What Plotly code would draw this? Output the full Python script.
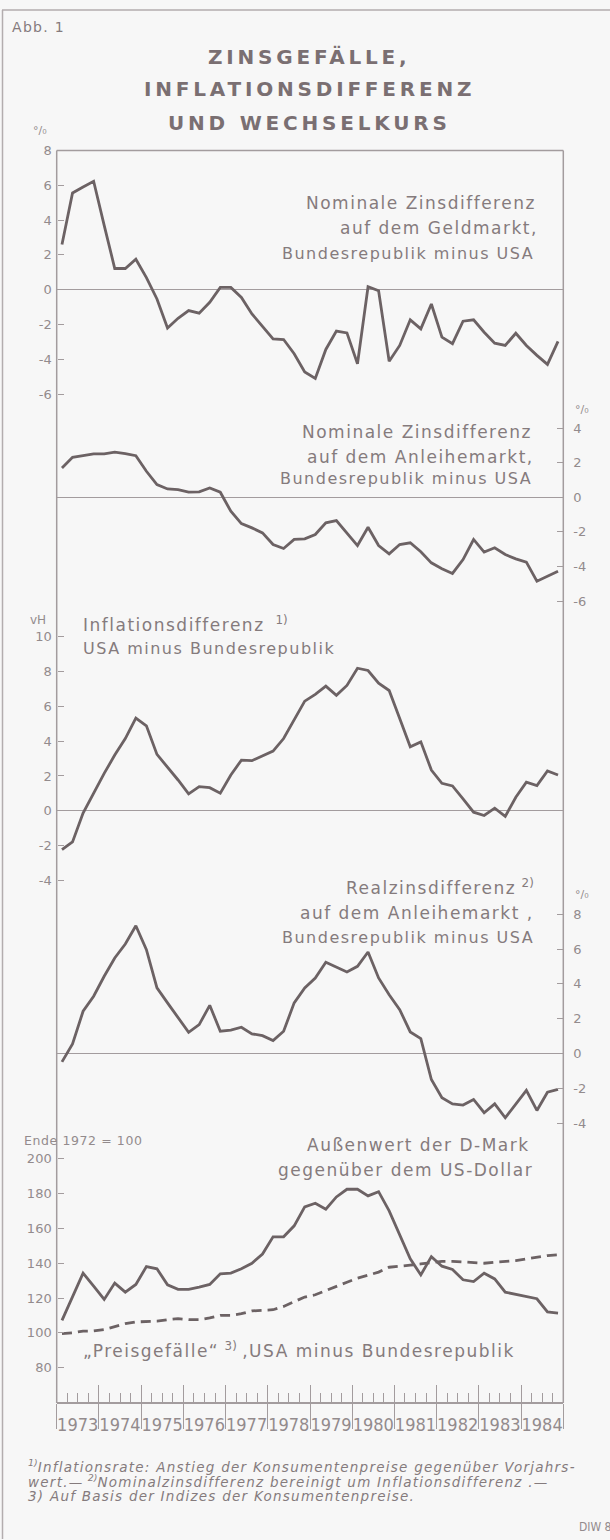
import plotly.graph_objects as go

W, H = 610, 1540

# quarterly observations 1973 Q1 - 1984 Q4
years = list(range(1973, 1985))
quarters = [y + (q - 0.5) / 4 for y in years for q in range(1, 5)]
year_labels = [str(y) for y in years]

# Nominale Zinsdifferenz auf dem Geldmarkt (%)
zins_geldmarkt = [2.6, 5.56, 5.9, 6.23, 3.7, 1.22, 1.22, 1.75, 0.7, -0.53, -2.2, -1.64,
                  -1.2, -1.35, -0.72, 0.13, 0.13, -0.44, -1.39, -2.11, -2.82, -2.86, -3.68, -4.72,
                  -5.1, -3.43, -2.38, -2.48, -4.25, 0.17, -0.06, -4.11, -3.2, -1.73, -2.25, -0.82,
                  -2.72, -3.1, -1.81, -1.73, -2.44, -3.07, -3.2, -2.5, -3.2, -3.77, -4.29, -2.97]

# Nominale Zinsdifferenz auf dem Anleihemarkt (%)
zins_anleihe = [1.69, 2.31, 2.4, 2.5, 2.5, 2.6, 2.52, 2.4, 1.5, 0.73, 0.48, 0.44,
                0.29, 0.31, 0.54, 0.29, -0.81, -1.52, -1.77, -2.06, -2.73, -2.96, -2.44, -2.4,
                -2.15, -1.48, -1.35, -2.06, -2.79, -1.73, -2.79, -3.27, -2.73, -2.63, -3.15, -3.79,
                -4.13, -4.4, -3.6, -2.44, -3.17, -2.92, -3.31, -3.56, -3.75, -4.85, -4.56, -4.27]

# Inflationsdifferenz USA minus Bundesrepublik (vH)
inflation_diff = [-2.23, -1.79, -0.13, 1.01, 2.15, 3.2, 4.15, 5.33, 4.88, 3.24, 2.53, 1.77,
                  0.97, 1.39, 1.33, 1.01, 2.06, 2.91, 2.88, 3.14, 3.43, 4.15, 5.2, 6.3,
                  6.69, 7.16, 6.63, 7.2, 8.19, 8.06, 7.33, 6.91, 5.3, 3.68, 3.96, 2.34,
                  1.58, 1.43, 0.69, -0.08, -0.27, 0.15, -0.32, 0.78, 1.64, 1.45, 2.29, 2.06]

# Realzinsdifferenz auf dem Anleihemarkt (%)
realzins_diff = [-0.48, 0.55, 2.43, 3.29, 4.44, 5.49, 6.29, 7.34, 5.97, 3.77, 2.91, 2.05,
                 1.22, 1.66, 2.77, 1.28, 1.34, 1.51, 1.13, 1.03, 0.75, 1.28, 2.91, 3.77,
                 4.34, 5.24, 4.95, 4.68, 5.01, 5.83, 4.34, 3.38, 2.52, 1.24, 0.86, -1.49,
                 -2.54, -2.89, -2.96, -2.64, -3.4, -2.89, -3.69, -2.93, -2.12, -3.27, -2.22, -2.06]

# Außenwert der D-Mark gegenüber dem US-Dollar (Ende 1972 = 100)
dm_aussenwert = [107.2, 120.6, 134.3, 126.9, 119.2, 128.6, 123.4, 127.8, 138.1, 136.8, 127.6, 125.0,
                 125.0, 126.3, 127.8, 133.9, 134.3, 136.8, 140.0, 145.3, 155.2, 155.2, 161.5, 172.4,
                 174.5, 171.0, 178.1, 182.5, 182.5, 178.7, 181.1, 170.1, 155.8, 142.5, 133.3, 143.8,
                 138.3, 136.4, 130.5, 129.5, 134.3, 131.0, 123.4, 122.1, 120.6, 119.6, 112.0, 111.4]

# "Preisgefälle" USA minus Bundesrepublik (Ende 1972 = 100)
preisgefaelle = [99.6, 100.0, 101.0, 101.1, 101.9, 103.4, 105.3, 106.3, 106.7, 106.7, 107.6, 108.2,
                 107.6, 107.6, 108.6, 110.1, 110.1, 111.0, 112.6, 113.0, 113.3, 115.2, 118.1, 120.6,
                 121.9, 124.4, 126.9, 129.1, 131.4, 133.3, 134.9, 137.7, 138.1, 138.9, 139.6, 140.4,
                 141.1, 141.1, 140.8, 140.2, 140.0, 140.6, 141.1, 141.5, 142.5, 143.4, 144.4, 144.8]

ticks_geld = [-6, -4, -2, 0, 2, 4, 6, 8]
ticks_anleihe = [-6, -4, -2, 0, 2, 4]
ticks_infl = [-4, -2, 0, 2, 4, 6, 8, 10]
ticks_real = [-4, -2, 0, 2, 4, 6, 8]
ticks_dm = [80, 100, 120, 140, 160, 180, 200]

# colours
BG = '#f7f7f7'
LINE = '#6c6264'
TEXT = '#857b7d'
TICKTXT = '#938b8d'
FRAME = '#a39c9e'
TITLE = '#7a6f72'
FONT = 'DejaVu Sans'
NARROW = 'Liberation Sans Narrow, DejaVu Sans Condensed, sans-serif'

# plot frame in pixels
X_LEFT, X_RIGHT = 56.7, 563.3
Y_TOP, Y_AXIS = 144.2, 1403.3


def fx(x):
    return x / W


def fy(y):
    return 1 - y / H


def domain(ref_val, ref_px, k, lo, hi):
    return [fy(ref_px + k * (ref_val - lo)), fy(ref_px - k * (hi - ref_val))]


def spaced(s, sp):
    return f'<span style="letter-spacing:{sp}px">{s}</span>'


def yaxis(dom, rng, vals, side, zero=True):
    left = side == 'left'
    return dict(
        domain=dom, range=rng, anchor='free',
        position=fx(X_LEFT) if left else fx(X_RIGHT), side=side,
        tickmode='array', tickvals=vals, ticktext=[str(v) for v in vals],
        ticks='inside', ticklen=6, tickwidth=1.3, tickcolor=FRAME,
        ticklabelstandoff=5 if left else 9,
        tickfont=dict(family=FONT, size=13, color=TICKTXT),
        showline=False, showgrid=False,
        zeroline=zero, zerolinecolor=FRAME, zerolinewidth=1.3,
        fixedrange=True,
    )


fig = go.Figure()

series = [
    (zins_geldmarkt, 'x', 'y', 'solid'),
    (zins_anleihe, 'x', 'y2', 'solid'),
    (inflation_diff, 'x', 'y3', 'solid'),
    (realzins_diff, 'x', 'y4', 'solid'),
    (dm_aussenwert, 'x', 'y5', 'solid'),
    (preisgefaelle, 'x2', 'y5', '10px,6px'),
]
for values, xref, yref, dash in series:
    fig.add_trace(go.Scatter(
        x=quarters, y=values, xaxis=xref, yaxis=yref, mode='lines',
        line=dict(color=LINE, width=2.8, dash=dash),
        showlegend=False, hoverinfo='skip',
    ))

fig.update_layout(
    width=W, height=H,
    margin=dict(l=0, r=0, t=0, b=0),
    paper_bgcolor=BG, plot_bgcolor='rgba(0,0,0,0)',
    showlegend=False,
    xaxis=dict(
        domain=[fx(X_LEFT), fx(X_RIGHT)], range=[1973, 1985],
        anchor='free', position=fy(Y_AXIS),
        showline=True, linecolor=FRAME, linewidth=1.5,
        tickmode='array', tickvals=years, ticktext=year_labels, tickangle=0,
        ticks='inside', ticklen=17, tickwidth=1.3, tickcolor=FRAME,
        minor=dict(ticks='inside', ticklen=9, tickwidth=1.2, tickcolor=FRAME,
                   tick0=1973, dtick=0.25, showgrid=False),
        ticklabelshift=21, ticklabelstandoff=6,
        tickfont=dict(family=NARROW, size=18, color=TICKTXT),
        showgrid=False, zeroline=False, fixedrange=True,
    ),
    xaxis2=dict(
        matches='x', overlaying='x', anchor='free', position=fy(Y_AXIS),
        tickmode='array', tickvals=years + [1985], showticklabels=False,
        ticks='outside', ticklen=25, tickwidth=1.3, tickcolor=FRAME,
        showline=False, showgrid=False, zeroline=False, fixedrange=True,
    ),
    yaxis=yaxis(domain(0, 284.2, 17.5, -7, 8), [-7, 8], ticks_geld, 'left'),
    yaxis2=yaxis(domain(0, 492.8, 17.4, -6.6, 4.6), [-6.6, 4.6], ticks_anleihe, 'right'),
    yaxis3=yaxis(domain(0, 808.0, 17.5, -4.4, 10.4), [-4.4, 10.4], ticks_infl, 'left'),
    yaxis4=yaxis(domain(0, 1052.0, 17.5, -4.4, 8.4), [-4.4, 8.4], ticks_real, 'right'),
    yaxis5=yaxis(domain(100, 1332.8, 1.75, 76, 204), [76, 204], ticks_dm, 'left', zero=False),
)

# frame and outer border
frame = dict(color=FRAME, width=1.5)
fig.add_shape(type='line', xref='paper', yref='paper', x0=fx(X_LEFT), x1=fx(X_RIGHT),
              y0=fy(Y_TOP), y1=fy(Y_TOP), line=frame, layer='below')
for xp in (X_LEFT, X_RIGHT):
    fig.add_shape(type='line', xref='paper', yref='paper', x0=fx(xp), x1=fx(xp),
                  y0=fy(Y_TOP), y1=fy(Y_AXIS), line=frame, layer='below')
border = dict(color='#b3adae', width=1.5)
fig.add_shape(type='line', xref='paper', yref='paper', x0=fx(2), x1=1,
              y0=fy(3), y1=fy(3), line=border, layer='below')
fig.add_shape(type='line', xref='paper', yref='paper', x0=fx(2.5), x1=fx(2.5),
              y0=fy(3), y1=0, line=border, layer='below')


def label(text, x, y, anchor='left', size=16, color=TEXT, bold=False, italic=False, family=FONT):
    fig.add_annotation(
        text=text, x=fx(x), y=fy(y), xref='paper', yref='paper',
        xanchor=anchor, yanchor='middle', showarrow=False,
        font=dict(family=family, size=size, color=color,
                  weight='bold' if bold else 'normal',
                  style='italic' if italic else 'normal'),
    )


label(spaced('Abb. 1', 1.3), 10, 20, size=14)
label(spaced('ZINSGEFÄLLE,', 3.8), 309, 50, anchor='center', size=20, color=TITLE, bold=True)
label(spaced('INFLATIONSDIFFERENZ', 3.8), 309, 82, anchor='center', size=20, color=TITLE, bold=True)
label(spaced('UND WECHSELKURS', 3.8), 309, 117, anchor='center', size=20, color=TITLE, bold=True)

# units
label('°/₀', 40, 124, anchor='center', size=11, color=TICKTXT)
label('°/₀', 582, 405, anchor='center', size=11, color=TICKTXT)
label('vH', 38, 616, anchor='center', size=12, color=TICKTXT)
label('°/₀', 582, 892, anchor='center', size=11, color=TICKTXT)
label(spaced('Ende 1972 = 100', 0.6), 22, 1139, size=12.5, color=TICKTXT)

# series descriptions
label(spaced('Nominale Zinsdifferenz', 1.5), 538, 197, anchor='right', size=17)
label(spaced('auf dem Geldmarkt,', 1.5), 540, 222, anchor='right', size=17)
label(spaced('Bundesrepublik minus USA', 1.5), 536, 248, anchor='right', size=16)

label(spaced('Nominale Zinsdifferenz', 1.5), 534, 427, anchor='right', size=17)
label(spaced('auf dem Anleihemarkt,', 1.5), 536, 452, anchor='right', size=17)
label(spaced('Bundesrepublik minus USA', 1.5), 534, 474, anchor='right', size=16)

label(spaced('Inflationsdifferenz', 1.5) + '  <sup>1)</sup>', 81, 620, size=17)
label(spaced('USA minus Bundesrepublik', 1.5), 81, 645, size=16)

label(spaced('Realzinsdifferenz', 1.5) + ' <sup>2)</sup>', 536, 885, anchor='right', size=17)
label(spaced('auf dem Anleihemarkt ,', 1.5), 536, 911, anchor='right', size=17)
label(spaced('Bundesrepublik minus USA', 1.5), 536, 935, anchor='right', size=16)

label(spaced('Außenwert der D-Mark', 1.5), 532, 1144, anchor='right', size=17)
label(spaced('gegenüber dem US-Dollar', 1.5), 535, 1169, anchor='right', size=17)
label(spaced('„Preisgefälle“', 1.5) + ' <sup>3)</sup> ' + spaced(',USA minus Bundesrepublik', 1.5),
      81, 1350, size=17)

# footnotes
label('<sup>1)</sup>' + spaced('Inflationsrate: Anstieg der Konsumentenpreise gegenüber Vorjahrs-', 1.25),
      26, 1467, size=13.5, italic=True)
label(spaced('wert.—', 1.25) + ' <sup>2)</sup>' +
      spaced('Nominalzinsdifferenz bereinigt um Inflationsdifferenz .—', 1.25),
      26, 1482, size=13.5, italic=True)
label(spaced('3) Auf Basis der Indizes der Konsumentenpreise.', 1.25), 26, 1497, size=13.5, italic=True)
label('DIW 85', 577, 1528, size=12, color=TICKTXT, family=NARROW)

fig.write_html("out.html", config={'displayModeBar': False},
               post_script="document.body.style.margin='0';"
                           "document.body.style.overflow='hidden';")
